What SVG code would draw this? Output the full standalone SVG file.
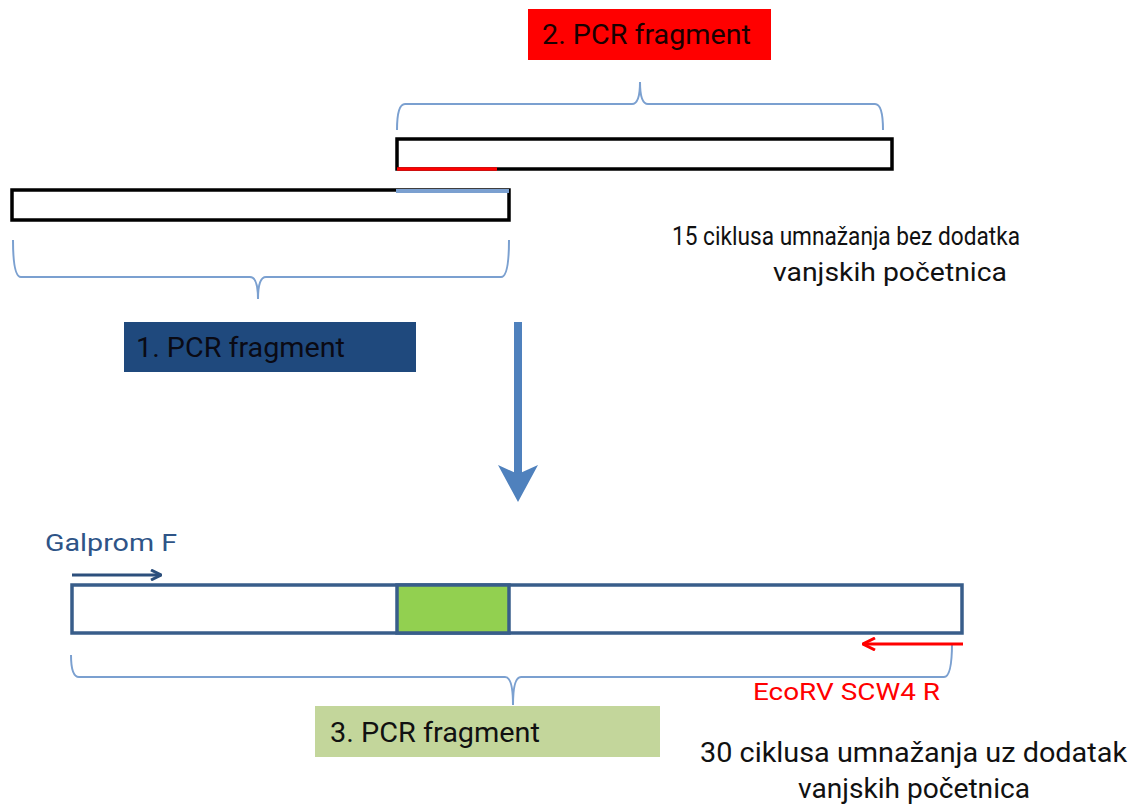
<svg xmlns="http://www.w3.org/2000/svg" width="1136" height="809" viewBox="0 0 1136 809">
<style>
  .lbl { font-family: Roboto, Lato, "Liberation Sans", sans-serif; }
  .brace { fill: none; stroke: #7BA0D0; stroke-width: 2; }
  .strand { fill: #ffffff; stroke: #000000; stroke-width: 3.5; }
  .prod { fill: #ffffff; stroke: #385D8A; stroke-width: 3.5; }
</style>
<defs>
  <marker id="headBlue" viewBox="0 0 12 12" refX="11" refY="6" markerWidth="12" markerHeight="12" markerUnits="userSpaceOnUse" orient="auto">
    <path d="M1,1 L11,6 L1,11" fill="none" stroke="#2C4F7C" stroke-width="3"/>
  </marker>
  <marker id="headRed" viewBox="0 0 14 14" refX="13" refY="7" markerWidth="14" markerHeight="14" markerUnits="userSpaceOnUse" orient="auto">
    <path d="M1,1 L13,7 L1,13" fill="none" stroke="#FF0000" stroke-width="3"/>
  </marker>
</defs>
<rect width="1136" height="809" fill="#ffffff"/>

<g id="fragment2-label">
  <rect x="528" y="9" width="243" height="51" fill="#FF0000"/>
  <text class="lbl" x="542" y="44" font-size="28" fill="#1a0000" textLength="209" lengthAdjust="spacingAndGlyphs">2. PCR fragment</text>
</g>

<g id="fragment2">
  <rect class="strand" x="397" y="139" width="495" height="30"/>
  <line x1="397" y1="169" x2="497" y2="169" stroke="#FF0000" stroke-width="3.5"/>
</g>

<g id="fragment1">
  <rect class="strand" x="12" y="190" width="497" height="30"/>
  <line x1="396" y1="191" x2="509" y2="191" stroke="#7BA0D0" stroke-width="4"/>
</g>

<g id="fragment1-label">
  <rect x="124" y="322" width="292" height="50" fill="#1F497D"/>
  <text class="lbl" x="136" y="357" font-size="28" fill="#0a0a14" textLength="209" lengthAdjust="spacingAndGlyphs">1. PCR fragment</text>
</g>

<g id="note1">
  <text class="lbl" x="672" y="245" font-size="25" fill="#111111" textLength="348" lengthAdjust="spacingAndGlyphs">15 ciklusa umnažanja bez dodatka</text>
  <text class="lbl" x="773" y="281" font-size="25" fill="#111111" textLength="234" lengthAdjust="spacingAndGlyphs">vanjskih početnica</text>
</g>

<g id="primerF">
  <text class="lbl" x="45" y="551" font-size="24" fill="#2E5487" textLength="132" lengthAdjust="spacingAndGlyphs">Galprom F</text>
</g>

<g id="fragment3">
  <rect class="prod" x="72" y="585" width="890" height="48"/>
  <rect x="397" y="585" width="112" height="48" fill="#92D050" stroke="#385D8A" stroke-width="3.5"/>
</g>

<g id="primerR">
  <text class="lbl" x="753" y="700" font-size="24" fill="#FF0000" textLength="187" lengthAdjust="spacingAndGlyphs">EcoRV SCW4 R</text>
</g>

<g id="fragment3-label">
  <rect x="315" y="706" width="345" height="51" fill="#C3D69B"/>
  <text class="lbl" x="330" y="742" font-size="28" fill="#111111" textLength="210" lengthAdjust="spacingAndGlyphs">3. PCR fragment</text>
</g>

<g id="note2">
  <text class="lbl" x="700" y="762" font-size="27" fill="#111111" textLength="427" lengthAdjust="spacingAndGlyphs">30 ciklusa umnažanja uz dodatak</text>
  <text class="lbl" x="798" y="798" font-size="27" fill="#111111" textLength="232" lengthAdjust="spacingAndGlyphs">vanjskih početnica</text>
</g>

<g id="connectors">
  <path class="brace" d="M397,130 Q397,104 405,104 L632,104 Q640,104 640,82 Q640,104 648,104 L875,104 Q883,104 883,130"/>
  <path class="brace" d="M13,240 Q13,277 21,277 L250,277 Q258,277 258,299 Q258,277 266,277 L501,277 Q509,277 509,240"/>
  <path class="brace" d="M71,655 Q71,677 79,677 L505,677 Q513,677 513,705 Q513,677 521,677 L944,677 Q952,677 952,643"/>
  <rect x="514" y="322" width="8" height="152" fill="#4F81BD"/>
  <path d="M498,465 L518,502 L538,465 L518,474 Z" fill="#4F81BD"/>
  <line x1="72" y1="575" x2="161" y2="575" stroke="#2C4F7C" stroke-width="3" marker-end="url(#headBlue)"/>
  <line x1="963" y1="644" x2="863" y2="644" stroke="#FF0000" stroke-width="3" marker-end="url(#headRed)"/>
</g>
</svg>
